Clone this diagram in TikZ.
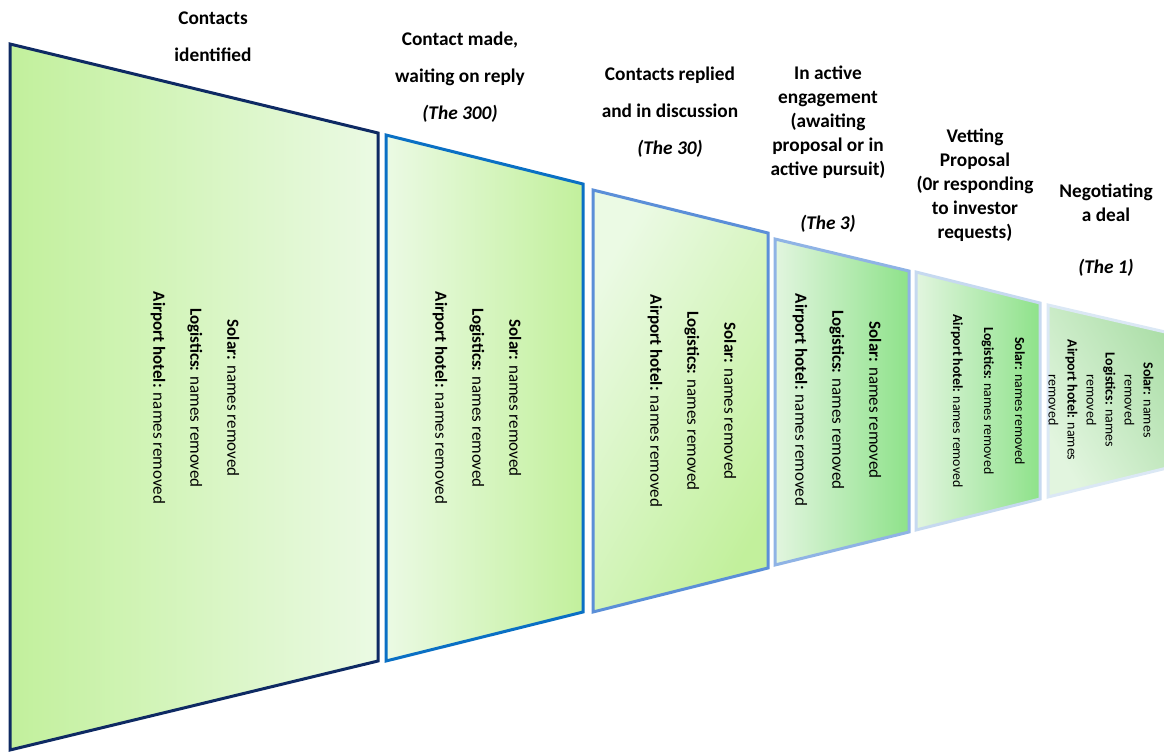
\documentclass[tikz,border=0pt]{standalone}
\usepackage{fontspec}
\setmainfont{Carlito}
\usepackage{tikz}
\usetikzlibrary{positioning}
\usepackage{xcolor}

\definecolor{edgeA}{HTML}{0E2A63}
\definecolor{edgeB}{HTML}{0A70C4}
\definecolor{edgeC}{HTML}{5B8FD8}
\definecolor{edgeD}{HTML}{8FB3E5}
\definecolor{edgeE}{HTML}{C6D9F0}
\definecolor{edgeF}{HTML}{DBE8F5}
\definecolor{limeG}{HTML}{C2F09C}
\definecolor{paleG}{HTML}{EBFAE4}
\definecolor{deepG}{HTML}{8EE28A}
\definecolor{mistG}{HTML}{E2F5DF}
\definecolor{sageG}{HTML}{A6DCA2}

\begin{document}
\begin{tikzpicture}[x=0.75pt,y=-0.75pt,line width=2.25pt,
			stage/.style={draw,shading=axis},
			title/.style={font=\bfseries\fontsize{14.5}{27.75}\selectfont,align=center}]
				\tikzstyle{names}=
				[rotate=-90,align=center,font=\fontsize{12.75}{27.75}\selectfont]
				\tikzstyle{closer}=
				[title,font=\bfseries\fontsize{14.5}{18}\selectfont]
				
				\useasboundingbox (0,0) rectangle (1164,753);
				\clip (0,0) rectangle (1164,753);
				
				\draw[stage,draw=edgeA,left color=limeG,right color=paleG] (10,44) -- (378,133) -- (378,661) -- (10,750) -- cycle;
				\draw[stage,draw=edgeB,left color=paleG,right color=limeG] (386,135) -- (583,184) -- (583,612) -- (386,661) -- cycle;
				\draw[stage,draw=edgeC,left color=paleG,right color=limeG,shading angle=60] (593,190) -- (768,233) -- (768,568) -- (593,612) -- cycle;
				\draw[stage,draw=edgeD,left color=mistG,right color=deepG] (775,239) -- (909,271) -- (909,532) -- (775,565) -- cycle;
				\draw[stage,draw=edgeE,left color=mistG,right color=deepG] (916,272) -- (1040,303) -- (1040,499) -- (916,530) -- cycle;
				\draw[stage,draw=edgeF,left color=mistG,right color=sageG,shading angle=120] (1048,305) -- (1200,340) -- (1200,460) -- (1048,497) -- cycle;
				
				\node[title] (T1) at (213,36.5) {Contacts\\identified};
				\node[title] (T2) at (460,77) {Contact made,\\waiting on reply\\\textit{(The 300)}};
				\node[title] (T3) at (670,112) {Contacts replied\\and in discussion\\\textit{(The 30)}};
				\node[closer] (T4) at (828,122.5) {In active\\engagement\\(awaiting\\proposal or in\\active pursuit)};
				\node[closer] (T5) at (975,185.5) {Vetting\\Proposal\\(0r responding\\to investor\\requests)};
				\node[closer] (T6) at (1106,203) {Negotiating\\a deal};
				\node[closer] (K4) [below=18pt of T4] {\textit{(The 3)}};
				\node[closer] (K6) [below=19pt of T6] {\textit{(The 1)}};
				
				\node[names] (N1) at (195,398) {\textbf{Solar:} names removed\\\textbf{Logistics:} names removed\\\textbf{Airport hotel:} names removed};
				\node[names] (N2) at (477,398) {\textbf{Solar:} names removed\\\textbf{Logistics:} names removed\\\textbf{Airport hotel:} names removed};
				\node[names] (N3) at (692,401) {\textbf{Solar:} names removed\\\textbf{Logistics:} names removed\\\textbf{Airport hotel:} names removed};
				\node[names] (N4) at (837,400) {\textbf{Solar:} names removed\\\textbf{Logistics:} names removed\\\textbf{Airport hotel:} names removed};
				\node[names,font=\fontsize{10.4}{23.25}\selectfont] (N5) at (988,401) {\textbf{Solar:} names removed\\\textbf{Logistics:} names removed\\\textbf{Airport hotel:} names removed};
				\node[names,font=\fontsize{10.5}{14.25}\selectfont] (N6) at (1101,400) {\textbf{Solar:} names\\removed\\\textbf{Logistics:} names\\removed\\\textbf{Airport hotel:} names\\removed};
			\end{tikzpicture}
\end{document}
